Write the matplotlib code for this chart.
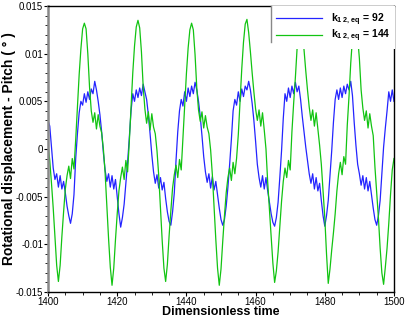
import numpy as np
import matplotlib
matplotlib.use('Agg')
import matplotlib.pyplot as plt
from matplotlib.ticker import MultipleLocator, FuncFormatter

plt.rcParams['font.family'] = 'Liberation Sans'
plt.rcParams['mathtext.fontset'] = 'custom'
plt.rcParams['mathtext.rm'] = 'Liberation Sans'
plt.rcParams['mathtext.bf'] = 'Liberation Sans:bold'
plt.rcParams['axes.unicode_minus'] = False

# sampled every 0.5 time units, from 1400 to 1500 (10 values per line = 5 units)
t_start, t_step = 1400.0, 0.5

# k_12,eq = 92
blue_vals = [
    0.0030, 0.0024, 0.0002, -0.0020, -0.0032, -0.0026, -0.0040, -0.0028, -0.0042, -0.0034,    # 1400
    -0.0046, -0.0060, -0.0070, -0.0078, -0.0068, -0.0048, -0.0010, 0.0016, 0.0038, 0.0050,    # 1405
    0.0046, 0.0058, 0.0049, 0.0060, 0.0052, 0.0063, 0.0058, 0.0071, 0.0062, 0.0050,           # 1410
    0.0036, 0.0018, -0.0004, -0.0022, -0.0034, -0.0026, -0.0040, -0.0028, -0.0042, -0.0032,   # 1415
    -0.0050, -0.0068, -0.0082, -0.0072, -0.0058, -0.0036, -0.0014, 0.0012, 0.0040, 0.0058,    # 1420
    0.0050, 0.0062, 0.0054, 0.0064, 0.0056, 0.0068, 0.0060, 0.0052, 0.0036, 0.0016,           # 1425
    -0.0006, -0.0024, -0.0036, -0.0027, -0.0041, -0.0030, -0.0043, -0.0035, -0.0052, -0.0066, # 1430
    -0.0076, -0.0080, -0.0066, -0.0046, -0.0012, 0.0018, 0.0040, 0.0052, 0.0045, 0.0060,      # 1435
    0.0050, 0.0064, 0.0055, 0.0066, 0.0058, 0.0070, 0.0062, 0.0050, 0.0034, 0.0014,           # 1440
    -0.0008, -0.0024, -0.0035, -0.0026, -0.0041, -0.0029, -0.0043, -0.0034, -0.0048, -0.0062, # 1445
    -0.0074, -0.0080, -0.0074, -0.0060, -0.0040, -0.0016, 0.0010, 0.0040, 0.0052, 0.0046,     # 1450
    0.0060, 0.0050, 0.0063, 0.0055, 0.0066, 0.0062, 0.0071, 0.0062, 0.0048, 0.0030,           # 1455
    0.0008, -0.0016, -0.0030, -0.0040, -0.0028, -0.0042, -0.0030, -0.0044, -0.0056, -0.0068,  # 1460
    -0.0077, -0.0081, -0.0072, -0.0056, -0.0030, -0.0002, 0.0032, 0.0058, 0.0050, 0.0064,     # 1465
    0.0054, 0.0066, 0.0058, 0.0070, 0.0060, 0.0066, 0.0052, 0.0034, 0.0018, 0.0002,           # 1470
    -0.0012, -0.0026, -0.0036, -0.0026, -0.0042, -0.0030, -0.0044, -0.0036, -0.0054, -0.0070, # 1475
    -0.0081, -0.0070, -0.0054, -0.0028, -0.0002, 0.0028, 0.0052, 0.0062, 0.0052, 0.0064,      # 1480
    0.0054, 0.0066, 0.0058, 0.0068, 0.0062, 0.0071, 0.0056, 0.0028, 0.0004, -0.0016,          # 1485
    -0.0026, -0.0038, -0.0028, -0.0042, -0.0030, -0.0044, -0.0034, -0.0048, -0.0062, -0.0074, # 1490
    -0.0080, -0.0070, -0.0054, -0.0026, 0.0002, 0.0022, 0.0040, 0.0060, 0.0050, 0.0062,       # 1495
    0.0050,                                                                                    # 1500
]

# k_12,eq = 144
green_vals = [
    0.0004, -0.0012, -0.0036, -0.0062, -0.0092, -0.0122, -0.0139, -0.0122, -0.0092, -0.0066,  # 1400
    -0.0042, -0.0028, -0.0018, -0.0031, -0.0010, -0.0021, 0.0010, 0.0045, 0.0078, 0.0105,     # 1405
    0.0126, 0.0132, 0.0126, 0.0100, 0.0065, 0.0040, 0.0028, 0.0038, 0.0021, 0.0036,           # 1410
    0.0024, 0.0017, 0.0000, -0.0025, -0.0060, -0.0094, -0.0124, -0.0143, -0.0125, -0.0095,    # 1415
    -0.0068, -0.0044, -0.0030, -0.0019, -0.0032, -0.0012, -0.0024, 0.0008, 0.0044, 0.0080,    # 1420
    0.0108, 0.0128, 0.0135, 0.0127, 0.0102, 0.0066, 0.0042, 0.0027, 0.0039, 0.0020,           # 1425
    0.0037, 0.0023, 0.0016, -0.0002, -0.0028, -0.0062, -0.0096, -0.0125, -0.0139, -0.0121,    # 1430
    -0.0091, -0.0065, -0.0041, -0.0027, -0.0017, -0.0030, -0.0011, -0.0022, 0.0011, 0.0046,   # 1435
    0.0079, 0.0106, 0.0125, 0.0132, 0.0125, 0.0099, 0.0064, 0.0041, 0.0029, 0.0039,           # 1440
    0.0022, 0.0035, 0.0023, 0.0016, -0.0001, -0.0027, -0.0061, -0.0095, -0.0125, -0.0143,     # 1445
    -0.0126, -0.0097, -0.0070, -0.0046, -0.0030, -0.0020, -0.0033, -0.0014, -0.0026, -0.0010, # 1450
    0.0015, 0.0050, 0.0084, 0.0112, 0.0131, 0.0136, 0.0122, 0.0102, 0.0080, 0.0060,           # 1455
    0.0042, 0.0030, 0.0041, 0.0024, 0.0038, 0.0020, 0.0000, -0.0035, -0.0064, -0.0092,        # 1460
    -0.0120, -0.0140, -0.0128, -0.0108, -0.0082, -0.0055, -0.0034, -0.0020, -0.0030, -0.0012, # 1465
    -0.0022, 0.0018, 0.0048, 0.0075, 0.0106, 0.0125, 0.0133, 0.0122, 0.0104, 0.0082,          # 1470
    0.0062, 0.0044, 0.0030, 0.0041, 0.0024, 0.0038, 0.0021, 0.0004, -0.0016, -0.0044,         # 1475
    -0.0072, -0.0110, -0.0141, -0.0126, -0.0106, -0.0088, -0.0068, -0.0044, -0.0026, -0.0014, # 1480
    -0.0027, -0.0008, -0.0016, 0.0025, 0.0055, 0.0090, 0.0116, 0.0132, 0.0130, 0.0117,        # 1485
    0.0095, 0.0062, 0.0043, 0.0030, 0.0040, 0.0022, 0.0037, 0.0024, 0.0014, -0.0019,          # 1490
    -0.0045, -0.0072, -0.0104, -0.0130, -0.0142, -0.0124, -0.0104, -0.0078, -0.0048, -0.0022, # 1495
    -0.0010,                                                                                   # 1500
]

labels = [r'$\mathbf{k}_{\mathbf{1\,2,\,eq}}$ = 92', r'$\mathbf{k}_{\mathbf{1\,2,\,eq}}$ = 144']
colors = ['#2424ff', '#12c412']

t_blue = t_start + t_step * np.arange(len(blue_vals))
t_green = t_start + t_step * np.arange(len(green_vals))

fig = plt.figure(figsize=(4.07, 3.17), dpi=100)
ax = fig.add_axes([0.118, 0.079, 0.850, 0.902])

ax.plot(t_blue, blue_vals, color=colors[0], lw=0.9, label=labels[0])
ax.plot(t_green, green_vals, color=colors[1], lw=0.9, label=labels[1])

ax.set_xlim(1400, 1500)
ax.set_ylim(-0.015, 0.015)
ax.xaxis.set_major_locator(MultipleLocator(20))
ax.xaxis.set_minor_locator(MultipleLocator(5))
ax.yaxis.set_major_locator(MultipleLocator(0.005))
ax.yaxis.set_minor_locator(MultipleLocator(0.001))
ax.yaxis.set_major_formatter(FuncFormatter(lambda v, p: f'{round(v, 4):g}'))
ax.tick_params(which='major', length=3, width=0.8, labelsize=7, pad=0.5, direction='out')
ax.tick_params(which='minor', length=2, width=0.6, direction='out')

ax.spines['left'].set_color('#888888')
ax.spines['left'].set_linewidth(1.8)
for s in ['top', 'right', 'bottom']:
    ax.spines[s].set_linewidth(1.0)

ax.set_xlabel('Dimensionless time', fontsize=9, fontweight='bold')
ax.xaxis.set_label_coords(0.5, -0.050)
ax.set_ylabel('Rotational displacement - Pitch ( ° )', fontsize=10, fontweight='bold')
ax.yaxis.set_label_coords(-0.093, 0.5)

leg = ax.legend(loc='upper left', bbox_to_anchor=(0.645, 1.0), borderaxespad=0,
                frameon=True, fancybox=False, handlelength=4.4, handletextpad=0.8,
                labelspacing=0.0, borderpad=0.5, prop={'weight': 'bold', 'size': 7.5})
leg.get_frame().set_facecolor('white')
leg.get_frame().set_edgecolor('none')
leg.get_frame().set_alpha(1.0)
ax.plot([0.645, 0.645], [0.874, 1.0], transform=ax.transAxes, color='#888888', lw=1.0,
        clip_on=False, zorder=6)

fig.savefig('out.png', dpi=100)
